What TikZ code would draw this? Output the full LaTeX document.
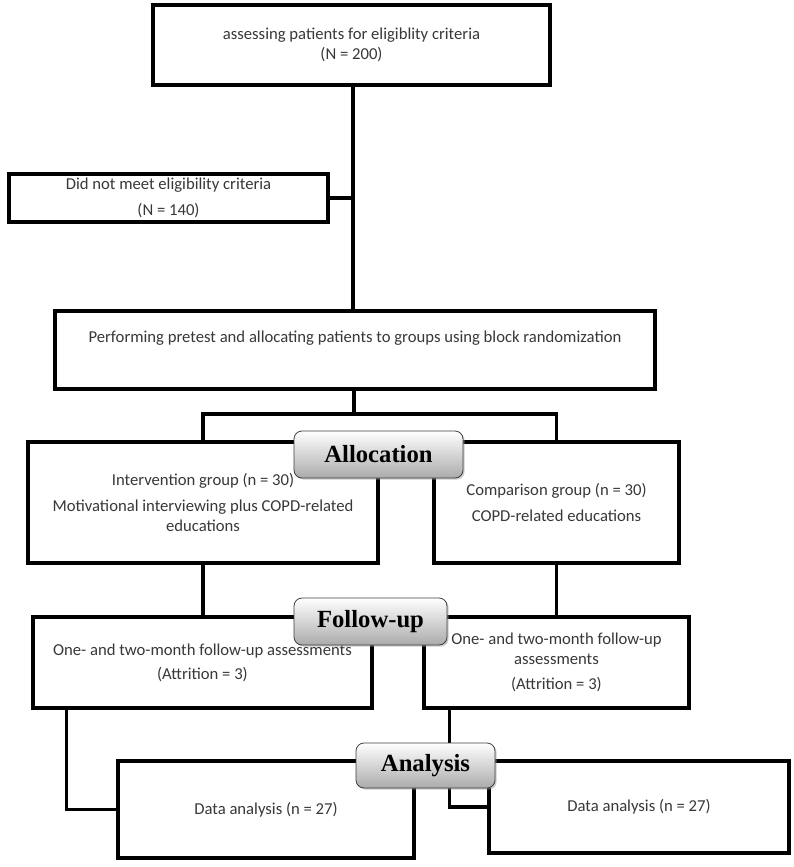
\documentclass[tikz,border=0pt]{standalone}
\usepackage{fontspec}
\setmainfont{Carlito}
\newfontfamily\lblfont{Liberation Serif}
\usetikzlibrary{shadows,calc}
\tikzset{
  sz/.style 2 args={minimum width=#1*0.75pt, minimum height=#2*0.75pt},
  flowbox/.style={draw=black, line width=2.4pt, inner sep=0pt, align=center,
    text=black!78, font=\fontsize{12.5}{15}\selectfont},
  stagelabel/.style={draw=black!75, line width=0.6pt, rounded corners=6pt,
    top color=white, bottom color=black!33, inner sep=0pt,
    font=\lblfont\bfseries\fontsize{18.5}{22}\selectfont,
    drop shadow={shadow xshift=1.2pt, shadow yshift=-1.2pt, fill=black!40}},
  conn/.style={line width=2.4pt}
}
\begin{document}
\begin{tikzpicture}[x=0.75pt,y=-0.75pt]
\useasboundingbox[fill=white] (0,0) rectangle (793,867);
% boxes
\node[flowbox, sz={397}{80}] (top) at (351.5,45)
  {assessing patients for eligiblity criteria\\(N = 200)};
\node[flowbox, sz={319}{48}] (notmeet) at (168.5,198)
  {Did not meet eligibility criteria\\[5pt](N = 140)};
\node[flowbox, sz={600}{78}] (pretest) at (355,350)
  {Performing pretest and allocating patients to groups using block randomization\\[5pt]\mbox{}};
\node[flowbox, sz={350}{121}] (interv) at (203,502.5)
  {Intervention group (n = 30)\\[4pt]Motivational interviewing plus COPD-related\\educations};
\node[flowbox, sz={245}{121}] (compar) at (556.5,502.5)
  {Comparison group (n = 30)\\[4pt]COPD-related educations};
\node[flowbox, sz={339}{91}] (fu1) at (202.5,662.5)
  {One- and two-month follow-up assessments\\[3pt](Attrition = 3)};
\node[flowbox, sz={265}{91}] (fu2) at (556.5,662.5)
  {One- and two-month follow-up\\assessments\\[4pt](Attrition = 3)};
\node[flowbox, sz={296}{97}] (data1) at (266,809.5) {Data analysis (n = 27)};
\node[flowbox, sz={300}{92}] (data2) at (639,807) {Data analysis (n = 27)};
% connectors
\coordinate (split) at (354,414);
\draw[conn] (top.south -| 353,0) -- (pretest.north -| 353,0);
\draw[conn] (notmeet.east) -- (notmeet.east -| 353,0);
\draw[conn] (pretest.south -| split) -- (split);
\draw[conn] (interv.north) |- (split) -| (compar.north);
\draw[conn] (interv.south) -- (fu1.north -| interv.south);
\draw[conn] (compar.south) -- (fu2.north -| compar.south);
\draw[conn] ($(fu1.south west)+(35,0)$) |- (data1.west);
\draw[conn] ($(fu2.south west)+(27,0)$) |- (data2.west);
% stage labels
\node[stagelabel, sz={169}{47}] (alloc) at (378.5,454.5) {Allocation};
\node[stagelabel, sz={153}{47}] (follow) at (370.5,621.5) {Follow-up};
\node[stagelabel, sz={139}{45}] (analysis) at (425.5,765.5) {Analysis};
\end{tikzpicture}
\end{document}
